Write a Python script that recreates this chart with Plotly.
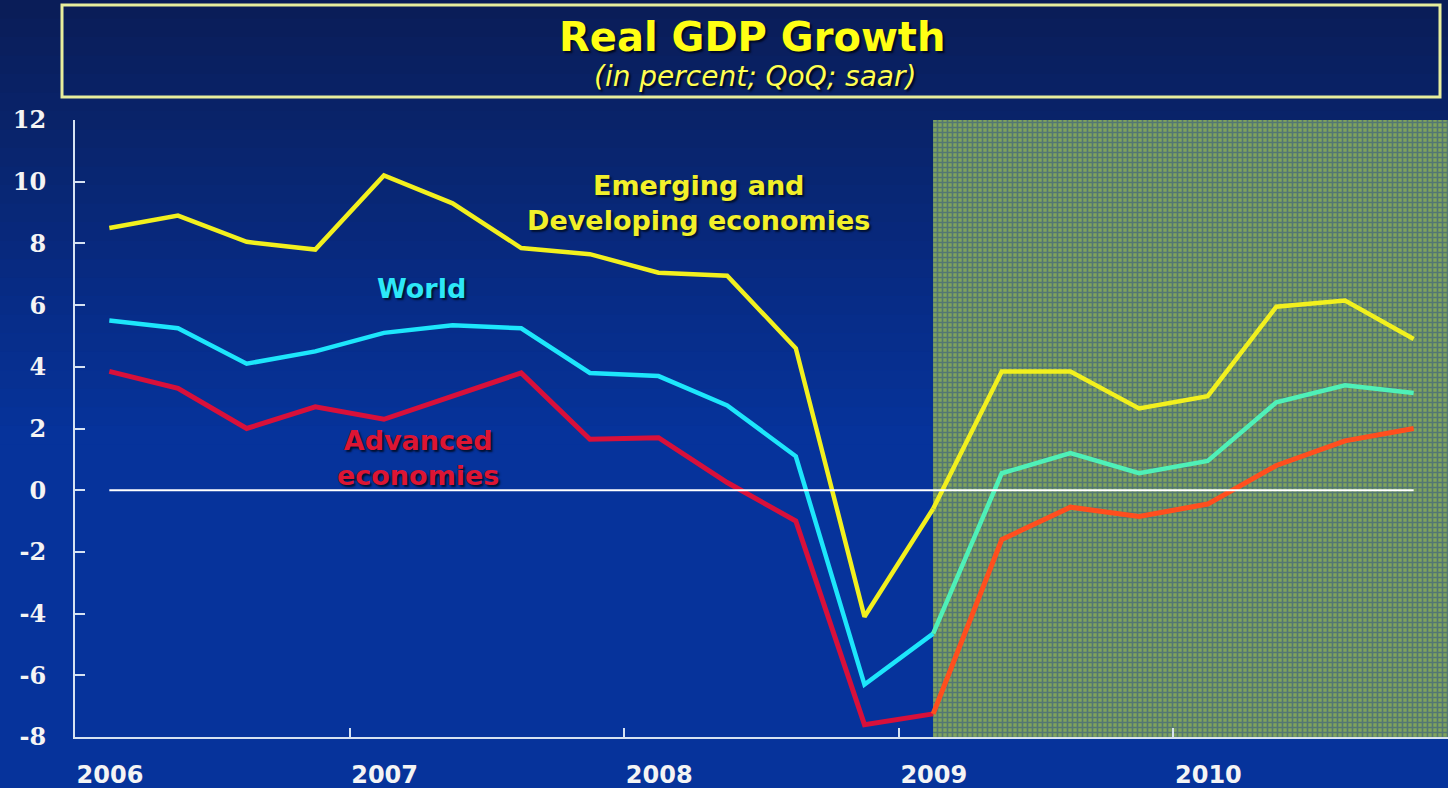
import plotly.graph_objects as go

# ---------------- data ----------------
quarters = ["2006Q1", "2006Q2", "2006Q3", "2006Q4",
            "2007Q1", "2007Q2", "2007Q3", "2007Q4",
            "2008Q1", "2008Q2", "2008Q3", "2008Q4",
            "2009Q1", "2009Q2", "2009Q3", "2009Q4",
            "2010Q1", "2010Q2", "2010Q3", "2010Q4"]
emerging = [8.5, 8.9, 8.05, 7.8, 10.2, 9.3, 7.85, 7.65, 7.05, 6.95,
            4.6, -4.1, -0.6, 3.85, 3.85, 2.65, 3.05, 5.95, 6.15, 4.9]
world = [5.5, 5.25, 4.1, 4.5, 5.1, 5.35, 5.25, 3.8, 3.7, 2.75,
         1.1, -6.3, -4.65, 0.55, 1.2, 0.55, 0.95, 2.85, 3.4, 3.15]
advanced = [3.85, 3.3, 2.0, 2.7, 2.3, 3.05, 3.8, 1.65, 1.7, 0.25,
            -1.0, -7.6, -7.25, -1.6, -0.55, -0.85, -0.45, 0.8, 1.6, 2.0]
projection_start = "2009Q1"
year_ticks = [2006, 2007, 2008, 2009, 2010]
year_labels = ["2006", "2007", "2008", "2009", "2010"]
y_ticks = [-8, -6, -4, -2, 0, 2, 4, 6, 8, 10, 12]
y_labels = ["-8", "-6", "-4", "-2", "0", "2", "4", "6", "8", "10", "12"]

# quarter label -> mid-quarter position in years
def qpos(label):
    return int(label[:4]) + (int(label[-1]) - 0.5) / 4.0

xs = [qpos(q) for q in quarters]
split = quarters.index(projection_start)
x_min, x_max = 2006, 2011
y_min, y_max = -8, 12

fig = go.Figure()

# shaded projection area (patterned grid)
p0 = qpos(projection_start)
fig.add_trace(go.Bar(
    x=[(p0 + x_max) / 2], y=[y_max - y_min], base=[y_min], width=[x_max - p0],
    marker=dict(color="#80a35c", line=dict(width=0),
                pattern=dict(shape="+", fgcolor="#284c8a", size=5,
                             solidity=0.55, fillmode="overlay")),
    hoverinfo="skip", showlegend=False))

series = [
    (emerging, "#f2f01e", "#f2f01e", 4.5),
    (world, "#1de6fb", "#4ff0b8", 4.5),
    (advanced, "#d8103a", "#ff4e1e", 5),
]
for vals, c_hist, c_proj, w in series:
    fig.add_trace(go.Scatter(x=xs[:split + 1], y=vals[:split + 1], mode="lines",
                             line=dict(color=c_hist, width=w), showlegend=False,
                             hoverinfo="skip"))
    fig.add_trace(go.Scatter(x=xs[split:], y=vals[split:], mode="lines",
                             line=dict(color=c_proj, width=w), showlegend=False,
                             hoverinfo="skip"))

shapes = []
# background gradient (top dark -> lighter blue)
top_c = (10, 29, 88)
bot_c = (6, 51, 155)
n = 24
fig_top = 1 + 120 / 617.0
for i in range(n):
    t = i / (n - 1)
    c = tuple(int(round(top_c[k] + (bot_c[k] - top_c[k]) * t)) for k in range(3))
    y1 = fig_top - i * 0.03
    y0 = y1 - 0.031
    shapes.append(dict(type="rect", xref="paper", yref="paper",
                       x0=-0.06, x1=1.01, y0=y0, y1=y1, layer="below",
                       line=dict(width=0), fillcolor="rgb(%d,%d,%d)" % c))
# title box
shapes.append(dict(type="rect", xref="paper", yref="paper",
                   x0=(62 - 75) / 1373.0, x1=(1440 - 75) / 1373.0,
                   y0=(737 - 97) / 617.0, y1=(737 - 5) / 617.0,
                   line=dict(color="#e8ee9c", width=3), fillcolor="rgba(0,0,0,0)"))
# zero line across the data span
shapes.append(dict(type="line", xref="x", yref="y", x0=xs[0], x1=xs[-1], y0=0, y1=0,
                   line=dict(color="#ffffff", width=2)))

label_font = dict(family="DejaVu Sans", size=27, weight="bold",
                  shadow="2px 2px 2px #001030")
annotations = [
    dict(xref="paper", yref="paper", x=(752 - 75) / 1373.0, y=(737 - 37) / 617.0,
         xanchor="center", yanchor="middle",
         text="Real GDP Growth", showarrow=False,
         font=dict(family="DejaVu Sans", size=40, weight="bold", color="#ffff14",
                   shadow="2px 2px 2px #000820")),
    dict(xref="paper", yref="paper", x=(755 - 75) / 1373.0, y=(737 - 76) / 617.0,
         xanchor="center", yanchor="middle",
         text="(in percent; QoQ; saar)", showarrow=False,
         font=dict(family="DejaVu Sans", size=28, style="italic", color="#ffff50",
                   shadow="2px 2px 2px #000820")),
    dict(x=2008.27, y=9.3, text="Emerging and<br>Developing economies", showarrow=False,
         font=dict(label_font, color="#f2f02a"), align="center"),
    dict(x=2007.26, y=6.55, text="World", showarrow=False,
         font=dict(label_font, color="#2de8f8")),
    dict(x=2007.25, y=1.05, text="Advanced<br>economies", showarrow=False,
         font=dict(label_font, color="#dd1533"), align="center"),
]

axis_col = "#d6e2f2"
fig.update_layout(
    width=1448, height=788,
    margin=dict(l=75, r=0, t=120, b=51, autoexpand=False),
    paper_bgcolor="rgb(6,51,155)",
    plot_bgcolor="rgba(0,0,0,0)",
    shapes=shapes, annotations=annotations,
    bargap=0,
    xaxis=dict(range=[x_min, x_max], tickvals=year_ticks, ticktext=year_labels,
               automargin=False,
               showgrid=False, zeroline=False, showline=True, linecolor=axis_col,
               linewidth=2, ticks="inside", ticklen=9, tickwidth=2, tickcolor=axis_col,
               ticklabelshift=35, ticklabelstandoff=15,
               tickfont=dict(family="DejaVu Sans", size=24, weight="bold", color="#f4f4f4")),
    yaxis=dict(range=[y_min, y_max], tickvals=y_ticks, ticktext=y_labels,
               automargin=False,
               showgrid=False, zeroline=False, showline=True, linecolor=axis_col,
               linewidth=2, ticks="inside", ticklen=10, tickwidth=2, tickcolor=axis_col,
               ticklabelstandoff=22,
               tickfont=dict(family="DejaVu Serif", size=24, weight="bold", color="#f4f4f4")),
)

fig.write_html("out.html", config={"displayModeBar": False},
               post_script="document.body.style.margin='0';document.body.style.overflow='hidden';")
